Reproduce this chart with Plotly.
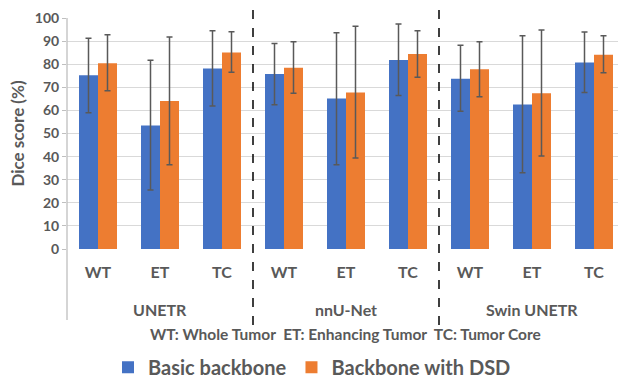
import plotly.graph_objects as go

models = ["UNETR", "nnU-Net", "Swin UNETR"]
regions = ["WT", "ET", "TC"]
categories = [f"{m} {r}" for m in models for r in regions]
tick_labels = [r for m in models for r in regions]

basic_vals = [75.2, 53.5, 78.1, 75.8, 65.1, 81.8, 73.7, 62.6, 80.7]
basic_hi = [91.2, 81.7, 94.5, 89.0, 93.6, 97.4, 88.2, 92.3, 93.9]
basic_lo = [59.0, 25.5, 61.9, 62.5, 36.5, 66.4, 59.6, 33.0, 67.7]

dsd_vals = [80.4, 64.1, 85.1, 78.5, 67.8, 84.4, 77.8, 67.4, 84.1]
dsd_hi = [92.8, 91.8, 94.1, 89.7, 96.4, 94.5, 89.7, 94.8, 92.3]
dsd_lo = [68.5, 36.5, 76.5, 67.4, 39.4, 74.3, 65.9, 40.3, 76.3]

y_ticks = list(range(0, 101, 10))
note_text = "WT: Whole Tumor  ET: Enhancing Tumor  TC: Tumor Core"

GRAY = "#595959"
FONT = "Lato"


def err(vals, hi, lo):
    return dict(type="data", symmetric=False,
                array=[h - v for h, v in zip(hi, vals)],
                arrayminus=[v - l for v, l in zip(vals, lo)],
                color=GRAY, thickness=1.5, width=3)


fig = go.Figure()
fig.add_trace(go.Bar(x=categories, y=basic_vals, name="Basic backbone",
                     marker=dict(color="#4472C4", line=dict(width=0)),
                     error_y=err(basic_vals, basic_hi, basic_lo)))
fig.add_trace(go.Bar(x=categories, y=dsd_vals, name="Backbone with DSD",
                     marker=dict(color="#ED7D31", line=dict(width=0)),
                     error_y=err(dsd_vals, dsd_hi, dsd_lo)))

W, H = 618, 381
L, T, B = 67, 18, 132
plot_w = W - L
plot_h = H - T - B
cat_px = 62.0


def py(pix):
    return (H - B - pix) / plot_h


shapes = []
# dashed separators between model groups
for i in range(1, len(models)):
    xpos = i * len(regions) - 0.5
    shapes.append(dict(type="line", xref="x", yref="paper", x0=xpos, x1=xpos,
                       y0=py(325), y1=py(4),
                       line=dict(color="black", width=1.5, dash="dash")))
# extended left axis line (multi-level category axis)
shapes.append(dict(type="line", xref="paper", yref="paper", x0=0, x1=0,
                   y0=py(320), y1=1, line=dict(color="#BFBFBF", width=1.3)))

annotations = []
for i, m in enumerate(models):
    annotations.append(dict(x=i * len(regions) + (len(regions) - 1) / 2, xref="x",
                            y=py(309), yref="paper", text=m, showarrow=False,
                            yanchor="middle", xanchor="center",
                            font=dict(family=FONT, size=16, color=GRAY, weight="bold")))
annotations.append(dict(x=(345 - L) / plot_w, xref="paper", y=py(334), yref="paper",
                        text=note_text, showarrow=False, yanchor="middle", xanchor="center",
                        font=dict(family=FONT, size=15.5, color=GRAY, weight="bold")))

fig.update_layout(
    width=W, height=H,
    margin=dict(l=L, r=0, t=T, b=B, pad=0),
    paper_bgcolor="white", plot_bgcolor="white",
    font=dict(family=FONT, color=GRAY, weight="bold"),
    barmode="group", bargap=0.387, bargroupgap=0,
    showlegend=True,
    legend=dict(orientation="h", xref="container", yref="container",
                x=312 / W, y=0.036, xanchor="center", yanchor="middle",
                font=dict(family=FONT, size=20, color=GRAY, weight="bold"),
                itemwidth=30, tracegroupgap=0),
    xaxis=dict(type="category", range=[-0.5, -0.5 + plot_w / cat_px],
               tickmode="array", tickvals=categories, ticktext=tick_labels,
               showgrid=False, showline=False, zeroline=False, ticks="",
               ticklabelstandoff=12, automargin=False,
               tickfont=dict(family=FONT, size=16, color=GRAY, weight="bold")),
    yaxis=dict(range=[0, 100], tickvals=y_ticks, showgrid=True, gridcolor="#D9D9D9",
               gridwidth=1.3, zeroline=False, showline=False, automargin=False,
               ticks="outside", ticklen=4, tickcolor="#BFBFBF", tickwidth=1,
               tickfont=dict(family=FONT, size=14, color=GRAY, weight="bold"),
               title=dict(text="Dice score (%)", standoff=5,
                          font=dict(family=FONT, size=17, color=GRAY, weight="bold"))),
    shapes=shapes, annotations=annotations,
)

fig.write_html("out.html", config={"displayModeBar": False},
               post_script="document.body.style.margin='0';document.body.style.padding='0';")
